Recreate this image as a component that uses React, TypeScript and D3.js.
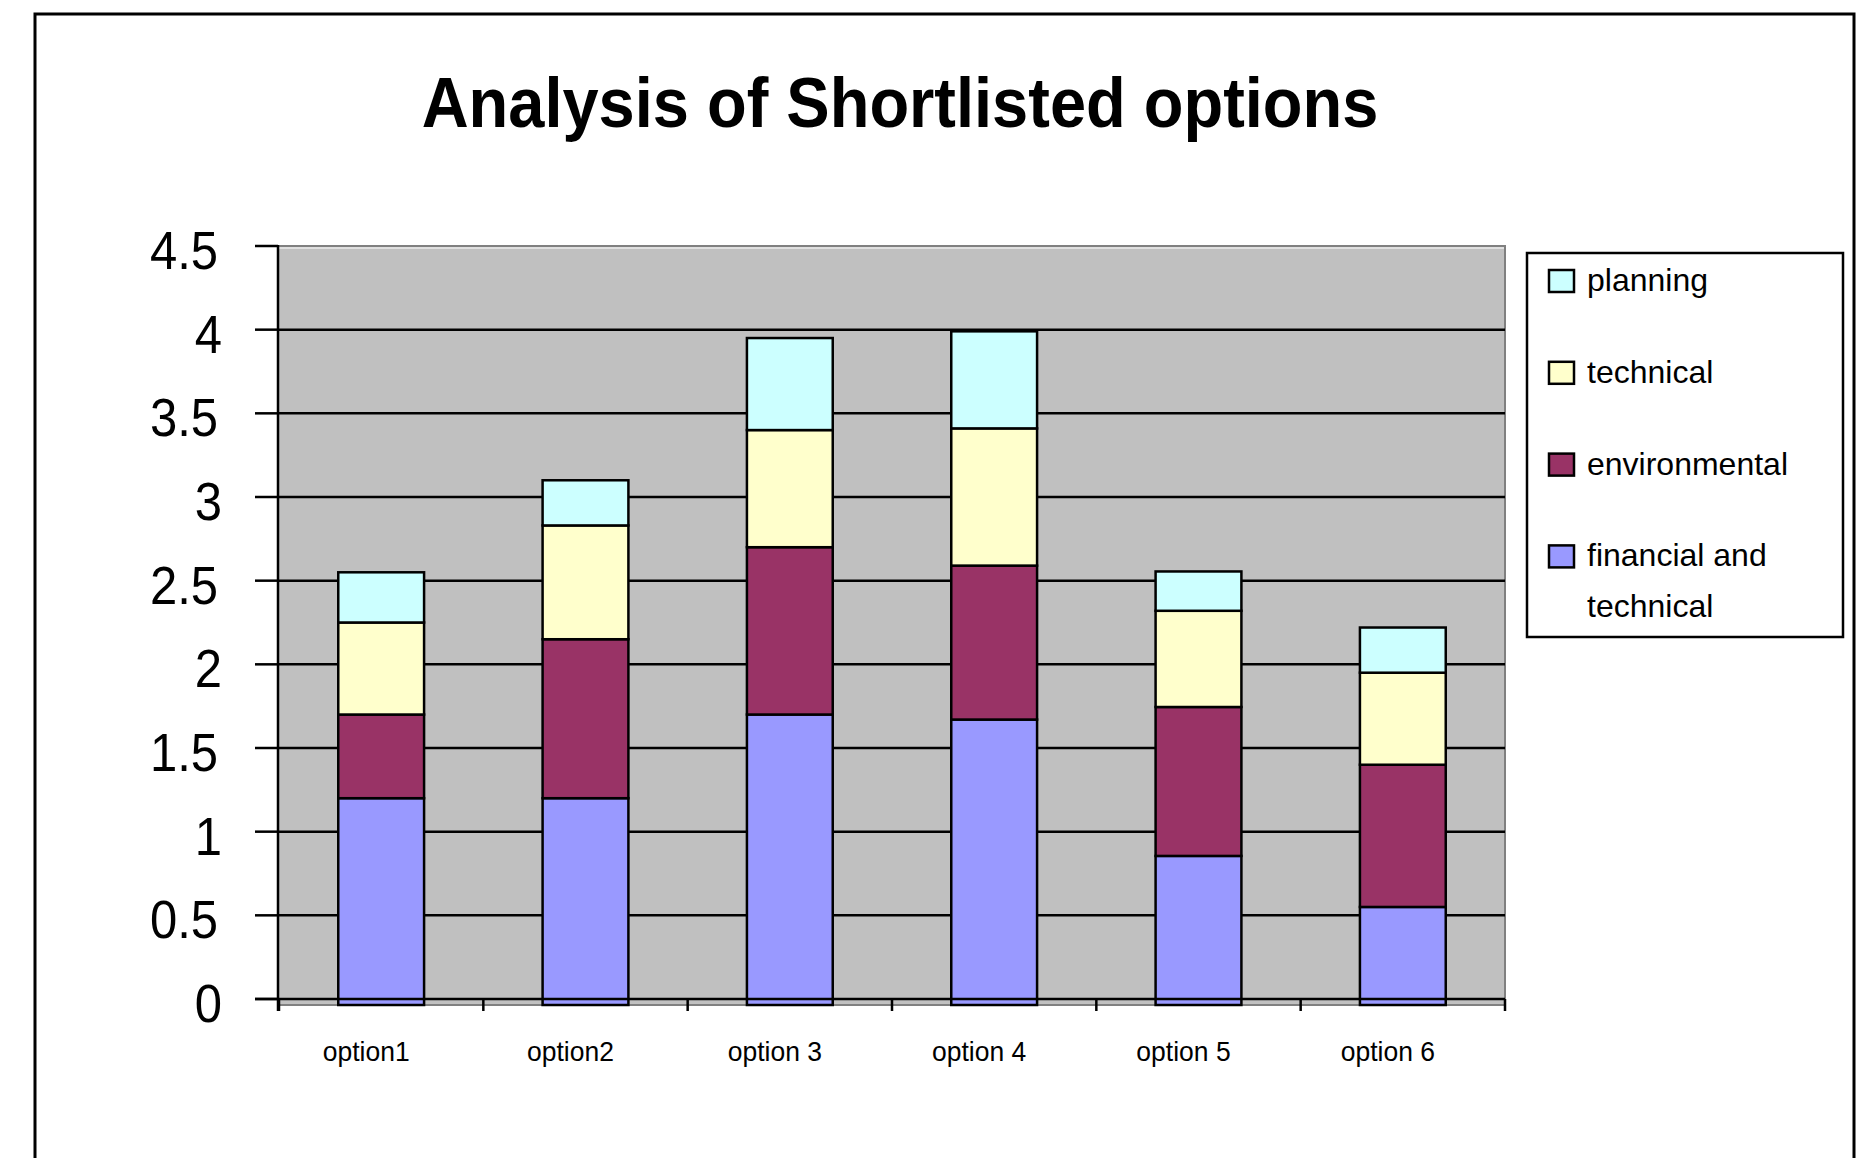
import { scaleBand, scaleLinear, stack } from "d3";

const categories = ["option1", "option2", "option 3", "option 4", "option 5", "option 6"];
const financial = [1.2, 1.2, 1.7, 1.67, 0.855, 0.55];
const environmental = [0.5, 0.95, 1.0, 0.92, 0.89, 0.85];
const technical = [0.55, 0.68, 0.7, 0.82, 0.575, 0.55];
const planning = [0.3, 0.27, 0.55, 0.58, 0.235, 0.27];
const yTickValues = [0, 0.5, 1, 1.5, 2, 2.5, 3, 3.5, 4, 4.5];

const seriesKeys = ["financial", "environmental", "technical", "planning"];
const seriesColors: Record<string, string> = {
  financial: "#9999ff",
  environmental: "#993366",
  technical: "#ffffcc",
  planning: "#ccffff"
};
const legendItems = [
  { key: "planning", lines: ["planning"] },
  { key: "technical", lines: ["technical"] },
  { key: "environmental", lines: ["environmental"] },
  { key: "financial", lines: ["financial and", "technical"] }
];

const width = 1861;
const height = 1158;
const plotLeft = 278;
const plotRight = 1505;
const plotTop = 246;
const zeroY = 999;
const belowZero = 6;
const font = "'Liberation Sans', Arial, Helvetica, sans-serif";
const stretch = 1.08;
const lineW = 2.5;

function App() {
  const rows = categories.map((name, i) => ({
    name,
    financial: financial[i],
    environmental: environmental[i],
    technical: technical[i],
    planning: planning[i]
  }));
  const layers = stack<any>().keys(seriesKeys)(rows);

  const x = scaleBand<string>()
    .domain(categories)
    .range([plotLeft + 1, plotRight])
    .paddingInner(0.58)
    .paddingOuter(0.29);
  const y = scaleLinear().domain([0, 4.5]).range([zeroY, plotTop]);

  const bounds = categories.map((_, i) => x.range()[0] + i * x.step()).concat([plotRight]);

  return (
    <svg
      width={width}
      height={height}
      style={{ position: "absolute", left: 0, top: 0, background: "#fff" }}
      fontFamily={font}
    >
      <rect x={35} y={14} width={1819} height={1250} fill="#fff" stroke="#000" strokeWidth={3} />

      <text
        transform={`translate(900, 127) scale(1, ${stretch})`}
        textAnchor="middle"
        fontWeight="bold"
        fontSize={65}
        fill="#000"
      >
        Analysis of Shortlisted options
      </text>

      {/* plot area */}
      <rect
        x={plotLeft}
        y={plotTop}
        width={plotRight - plotLeft}
        height={zeroY + belowZero - plotTop}
        fill="#c0c0c0"
        stroke="#808080"
        strokeWidth={2}
      />
      <line x1={plotLeft + 1} x2={plotRight - 1} y1={plotTop + 2} y2={plotTop + 2} stroke="#fff" strokeWidth={1} />

      {yTickValues.filter((v) => v > 0 && v < 4.5).map((v) => (
        <line key={v} x1={plotLeft} x2={plotRight} y1={y(v)} y2={y(v)} stroke="#000" strokeWidth={lineW} />
      ))}

      {layers.map((layer) => (
        <g key={layer.key} fill={seriesColors[layer.key]}>
          {layer.map((d, i) => {
            const top = y(d[1]);
            const bottom = d[0] === 0 ? zeroY + belowZero : y(d[0]);
            return (
              <rect
                key={i}
                x={x(categories[i])}
                y={top}
                width={x.bandwidth()}
                height={bottom - top}
                stroke="#000"
                strokeWidth={lineW}
              />
            );
          })}
        </g>
      ))}

      {/* axes */}
      <line x1={plotLeft} x2={plotLeft} y1={plotTop - 1} y2={zeroY + 12} stroke="#000" strokeWidth={lineW} />
      <line x1={plotLeft - 23} x2={plotRight} y1={zeroY} y2={zeroY} stroke="#000" strokeWidth={lineW} />
      {yTickValues.map((v) => (
        <g key={v}>
          <line x1={plotLeft - 23} x2={plotLeft} y1={y(v)} y2={y(v)} stroke="#000" strokeWidth={lineW} />
          <text
            transform={`translate(${Number.isInteger(v) ? plotLeft - 56 : plotLeft - 60}, ${y(v) + 23}) scale(1, ${stretch})`}
            textAnchor="end"
            fontSize={49}
            fill="#000"
          >
            {String(v)}
          </text>
        </g>
      ))}
      {bounds.map((bx, i) => (
        <line key={i} x1={bx} x2={bx} y1={zeroY} y2={zeroY + 12} stroke="#000" strokeWidth={lineW} />
      ))}
      {categories.map((c) => (
        <text
          key={c}
          transform={`translate(${(x(c) ?? 0) + x.bandwidth() / 2 - 15}, 1061) scale(1, 1.06)`}
          textAnchor="middle"
          fontSize={26.5}
          fill="#000"
        >
          {c}
        </text>
      ))}

      {/* legend */}
      <rect x={1527} y={253} width={316} height={384} fill="#fff" stroke="#000" strokeWidth={2.5} />
      {legendItems.map((item, i) => {
        const cy = 281 + i * 91.8;
        return (
          <g key={item.key}>
            <rect
              x={1549}
              y={cy - 11}
              width={25}
              height={22}
              fill={seriesColors[item.key]}
              stroke="#000"
              strokeWidth={2.5}
            />
            {item.lines.map((t, j) => (
              <text key={j} x={1587} y={cy + 10 + j * 51} fontSize={32} fill="#000">
                {t}
              </text>
            ))}
          </g>
        );
      })}
    </svg>
  );
}

export default App;
